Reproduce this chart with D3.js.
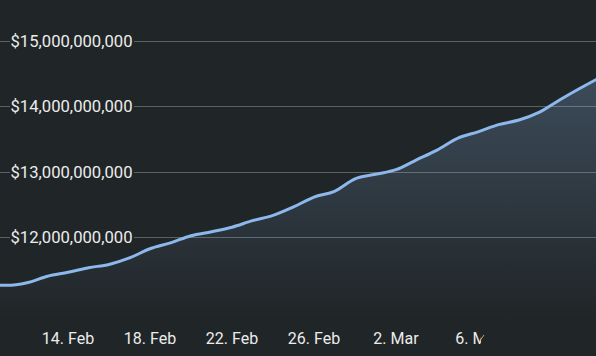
<!DOCTYPE html>
<html>
<head>
<meta charset="utf-8">
<script src="https://cdn.jsdelivr.net/npm/d3@7"></script>
<style>
html,body{margin:0;padding:0;background:#202527;}
svg{display:block;}
</style>
</head>
<body>
<svg id="chart" width="596" height="356"></svg>
<script>
// Data (values in billions of USD), daily
const dates = ["2021-02-10","2021-02-11","2021-02-12","2021-02-13","2021-02-14","2021-02-15","2021-02-16","2021-02-17","2021-02-18","2021-02-19","2021-02-20","2021-02-21","2021-02-22","2021-02-23","2021-02-24","2021-02-25","2021-02-26","2021-02-27","2021-02-28","2021-03-01","2021-03-02","2021-03-03","2021-03-04","2021-03-05","2021-03-06","2021-03-07","2021-03-08","2021-03-09","2021-03-10","2021-03-11","2021-03-12"];
const values = [11.28,11.26,11.30,11.40,11.46,11.53,11.58,11.68,11.82,11.91,12.02,12.08,12.15,12.25,12.33,12.46,12.61,12.70,12.89,12.96,13.03,13.18,13.33,13.51,13.61,13.72,13.79,13.91,14.10,14.28,14.45];
const yTicks = [12e9,13e9,14e9,15e9];
const xTickDates = ["2021-02-14","2021-02-18","2021-02-22","2021-02-26","2021-03-02","2021-03-06"];
const xTickLabels = ["14. Feb","18. Feb","22. Feb","26. Feb","2. Mar","6. Mar"];

const W = 596, H = 356;
const parse = d3.utcParse("%Y-%m-%d");
const data = dates.map((d,i)=>({date:parse(d), value:values[i]*1e9}));

const svg = d3.select("#chart");
const x = d3.scaleUtc().domain([parse("2021-02-10"), parse("2021-03-12")]).range([-14, 601]);
const y = d3.scaleLinear().domain([12e9, 15e9]).range([237, 41]);

const defs = svg.append("defs");
const grad = defs.append("linearGradient").attr("id","areaGrad")
  .attr("gradientUnits","userSpaceOnUse").attr("x1",0).attr("x2",0).attr("y1",60).attr("y2",320);
grad.append("stop").attr("offset","0%").attr("stop-color","#8cb8eb").attr("stop-opacity",0.28);
grad.append("stop").attr("offset","100%").attr("stop-color","#8cb8eb").attr("stop-opacity",0);
defs.append("clipPath").attr("id","plotClip").append("rect").attr("x",0).attr("y",0).attr("width",W).attr("height",320);
defs.append("clipPath").attr("id","xClip").append("rect").attr("x",0).attr("y",300).attr("width",481).attr("height",56);

svg.append("rect").attr("width",W).attr("height",H).attr("fill","#202527");

// gridlines
svg.append("g").selectAll("line").data(yTicks).join("line")
  .attr("x1",0).attr("x2",W).attr("y1",d=>Math.round(y(d))+0.5).attr("y2",d=>Math.round(y(d))+0.5)
  .attr("stroke","#5b6262").attr("stroke-width",1.2);

const plot = svg.append("g").attr("clip-path","url(#plotClip)");
const area = d3.area().x(d=>x(d.date)).y0(320).y1(d=>y(d.value)).curve(d3.curveMonotoneX);
const line = d3.line().x(d=>x(d.date)).y(d=>y(d.value)).curve(d3.curveMonotoneX);
plot.append("path").datum(data).attr("d",area).attr("fill","url(#areaGrad)");
plot.append("path").datum(data).attr("d",line).attr("fill","none")
  .attr("stroke","#8cb8eb").attr("stroke-width",3).attr("stroke-linejoin","round");

// y labels
const fmt = d3.format("$,.0f");
const yl = svg.append("g");
yTicks.forEach(t=>{
  yl.append("rect").attr("x",10).attr("y",y(t)-7).attr("width",124).attr("height",14).attr("fill","#202527");
  yl.append("text").attr("x",10.5).attr("y",y(t)).attr("dy","0.36em")
    .attr("font-family","Roboto, sans-serif").attr("font-size",17)
    .attr("textLength",122).attr("lengthAdjust","spacingAndGlyphs")
    .attr("fill","#ececec").text(fmt(t));
});

// x axis labels
const xg = svg.append("g").attr("clip-path","url(#xClip)");
xTickDates.forEach((d,i)=>{
  xg.append("text").attr("x",x(parse(d))).attr("y",344).attr("text-anchor","middle")
    .attr("font-family","Roboto, sans-serif").attr("font-size",16)
    .attr("fill","#ececec").text(xTickLabels[i]);
});
// small orange marker stroke seen in reference
svg.append("line").attr("x1",479).attr("y1",342).attr("x2",484).attr("y2",335)
  .attr("stroke","#e8a030").attr("stroke-width",1);
</script>
</body>
</html>
